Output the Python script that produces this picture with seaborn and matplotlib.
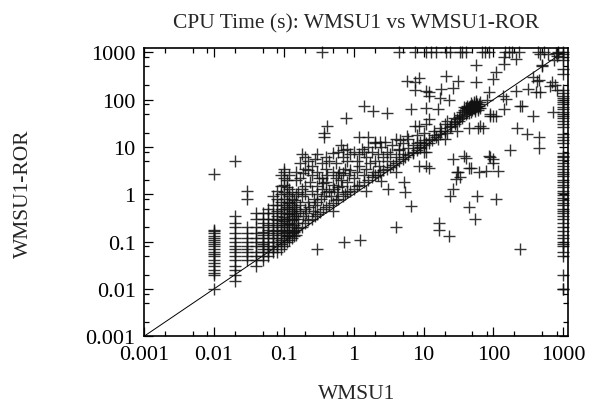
import numpy as np
import pandas as pd
import matplotlib
matplotlib.use('Agg')
import matplotlib.pyplot as plt
import seaborn as sns
from matplotlib.ticker import LogLocator, FixedLocator, FuncFormatter, NullFormatter

# --- WMSU1-ROR times for instances at a fixed WMSU1 time (vertical columns) ---
y_at_001 = [0.01, 0.02, 0.022, 0.025, 0.03, 0.035, 0.04, 0.05, 0.055, 0.06, 0.07,
            0.08, 0.09, 0.1, 0.11, 0.12, 0.13, 0.15, 0.17, 0.18, 2.7]
y_at_002 = [0.015, 0.02, 0.025, 0.03, 0.04, 0.05, 0.06, 0.07, 0.08, 0.1, 0.12,
            0.15, 0.2, 0.25, 0.35, 5.0]
y_at_003 = [0.04, 0.05, 0.06, 0.07, 0.08, 0.1, 0.12, 0.15, 0.2, 0.8, 1.2]
y_at_004 = [0.03, 0.04, 0.05, 0.06, 0.08, 0.1, 0.12, 0.15, 0.2, 0.3, 0.4]
y_at_005 = [0.04, 0.05, 0.06, 0.07, 0.08, 0.09, 0.1, 0.12, 0.14, 0.16, 0.2, 0.25, 0.3, 0.4]
y_at_006 = [0.05, 0.06, 0.07, 0.08, 0.1, 0.12, 0.15, 0.18, 0.22, 0.3, 0.4, 0.5]
y_at_007 = [0.06, 0.07, 0.08, 0.1, 0.12, 0.14, 0.17, 0.2, 0.25, 0.3, 0.4, 0.6, 0.9]
y_at_008 = [0.06, 0.08, 0.1, 0.12, 0.15, 0.18, 0.22, 0.28, 0.35, 0.45, 0.6, 0.8, 1.2]
y_at_009 = [0.07, 0.09, 0.11, 0.14, 0.17, 0.2, 0.25, 0.3, 0.4, 0.5, 0.7, 1.0, 1.5, 2.5]
y_at_010 = [0.08, 0.1, 0.12, 0.15, 0.18, 0.22, 0.27, 0.33, 0.4, 0.5, 0.6, 0.8, 1.1,
            1.6, 2.2, 3.0, 3.5]
y_at_011 = [0.1, 0.13, 0.16, 0.2, 0.25, 0.3, 0.4, 0.55, 0.7, 1.0, 1.4, 2.0]
y_at_012 = [0.11, 0.14, 0.18, 0.23, 0.3, 0.38, 0.5, 0.65, 0.9, 1.3, 2.5]
y_at_013 = [0.12, 0.15, 0.2, 0.28, 0.35, 0.45, 0.6, 0.8, 1.1]
y_at_014 = [0.13, 0.17, 0.22, 0.3, 0.4, 0.55, 0.75]
y_at_015 = [0.14, 0.18, 0.25, 0.35, 0.5, 0.7, 1.0, 2.0, 3.0]

# timeouts of WMSU1 (x = 1000)
y_at_timeout = [1000, 900, 800, 700, 450, 350, 160, 140, 120, 110, 100, 90, 80, 70,
                62, 55, 50, 45, 40, 35, 30, 27, 19, 16, 14, 12, 7.4, 6.5, 6.0, 5.2,
                4.5, 4.0, 3.5, 3.0, 2.7, 2.4, 2.0, 1.8, 1.6, 1.4, 1.2, 1.05, 0.95,
                0.85, 0.75, 0.65, 0.58, 0.5, 0.45, 0.4, 0.35, 0.3, 0.25, 0.2, 0.17,
                0.14, 0.12, 0.1, 0.09, 0.08, 0.06, 0.05, 0.02, 0.01, 0.01]

# timeouts of WMSU1-ROR (y = 1000)
x_at_timeout = [0.35, 4.5, 7.6, 10.7, 12.6, 15, 21, 24, 33, 36, 40, 69, 76, 87,
                146, 165, 183, 230, 440, 530, 830]

# --- scattered (WMSU1, WMSU1-ROR) pairs ---
upper_band = [(0.17, 4.5), (0.18, 7.0), (0.2, 3.5), (0.2, 6.0), (0.22, 5.0), (0.25, 4.0),
              (0.25, 2.5), (0.28, 5.5), (0.3, 3.0), (0.3, 7.0), (0.35, 4.5), (0.35, 2.2),
              (0.4, 3.5), (0.4, 6.0), (0.45, 5.0), (0.5, 7.5), (0.5, 3.0), (0.55, 4.5),
              (0.6, 8.0), (0.6, 2.5), (0.7, 6.0), (0.7, 8.5), (0.8, 5.0), (0.8, 9.0),
              (0.9, 7.0), (1.0, 8.0), (1.1, 5.0), (1.2, 7.0), (1.3, 9.0), (1.5, 6.0),
              (1.6, 10.0), (1.8, 8.0), (2.0, 12.0), (2.2, 7.0), (2.5, 10.0), (2.8, 13.0),
              (3.0, 8.0), (3.5, 11.0), (4.0, 15.0), (4.5, 9.0), (5.0, 12.0), (6.0, 15.0),
              (7.0, 11.0), (8.0, 18.0), (9.0, 13.0), (10.0, 20.0), (12.0, 15.0),
              (14.0, 22.0), (17.0, 25.0), (20.0, 30.0), (1.2, 16.0), (1.6, 16.0),
              (2.0, 13.0), (2.4, 13.0), (0.65, 11.0), (1.4, 8.0)]
middle_band = [(0.15, 0.4), (0.17, 0.6), (0.18, 0.9), (0.2, 0.5), (0.2, 1.0), (0.22, 0.7),
               (0.25, 1.2), (0.27, 0.8), (0.3, 1.0), (0.3, 1.5), (0.35, 1.3), (0.38, 0.9),
               (0.4, 1.8), (0.45, 1.2), (0.5, 1.6), (0.55, 2.2), (0.6, 1.4), (0.65, 2.0),
               (0.7, 2.8), (0.8, 1.8), (0.85, 2.5), (0.9, 3.2), (1.0, 2.2), (1.1, 3.0),
               (1.2, 4.0), (1.4, 2.6), (1.5, 3.5), (1.7, 4.5), (1.9, 3.0), (2.0, 5.0),
               (2.3, 4.0), (2.6, 6.0), (3.0, 5.0), (3.3, 7.0), (4.0, 6.0), (4.5, 8.5),
               (5.0, 7.0), (6.0, 9.5), (7.0, 8.0), (8.0, 12.0), (9.0, 10.0), (10.0, 14.0),
               (12.0, 12.0), (14.0, 18.0), (16.0, 15.0), (18.0, 22.0), (22.0, 20.0),
               (25.0, 28.0)]
extra_mid = [(0.16, 0.3), (0.17, 0.45), (0.18, 1.3), (0.19, 0.35), (0.2, 1.5), (0.21, 0.4),
             (0.23, 0.55), (0.24, 1.8), (0.26, 0.45), (0.28, 0.6), (0.3, 0.7), (0.32, 2.2),
             (0.34, 0.8), (0.36, 1.7), (0.4, 1.1), (0.42, 2.5), (0.48, 0.9), (0.52, 1.3),
             (0.58, 1.1), (0.62, 3.0), (0.68, 1.5), (0.75, 3.5), (0.17, 2.2), (0.19, 2.8),
             (0.22, 3.2), (0.16, 1.1)]
diag_band = [(0.12, 0.13), (0.14, 0.16), (0.16, 0.19), (0.18, 0.2), (0.2, 0.25), (0.22, 0.28),
             (0.25, 0.3), (0.28, 0.35), (0.3, 0.38), (0.33, 0.42), (0.37, 0.5), (0.4, 0.55),
             (0.45, 0.6), (0.5, 0.65), (0.55, 0.75), (0.6, 0.8), (0.7, 0.9), (0.75, 1.0),
             (0.8, 1.1), (0.9, 1.2), (1.0, 1.3), (1.1, 1.5), (1.2, 1.6), (1.4, 1.8),
             (1.6, 2.0), (1.8, 2.3), (2.0, 2.5), (2.2, 2.6), (2.4, 2.9), (2.6, 3.2),
             (3.0, 3.5), (3.3, 3.8), (3.6, 4.2), (4.0, 4.6), (4.5, 5.0), (5.0, 5.5),
             (5.5, 6.2), (6.0, 6.8), (7.0, 7.5), (8.0, 8.5), (9.0, 9.5), (10.0, 11.0),
             (11.0, 12.0), (13.0, 14.0), (15.0, 16.0), (17.0, 19.0), (20.0, 22.0),
             (24.0, 26.0), (28.0, 30.0), (32.0, 35.0), (36.0, 40.0), (3.1, 1.3),
             (2.5, 1.9), (1.5, 1.2), (0.5, 0.45), (4.0, 3.0), (10.0, 8.0), (20.0, 15.0),
             (30.0, 22.0), (25.0, 30.0), (28.0, 33.0), (30.0, 38.0), (32.0, 42.0),
             (27.0, 40.0), (22.0, 35.0), (11.0, 8.0), (12.0, 3.6), (30.0, 3.0),
             (33.0, 2.3), (40.0, 5.8), (47.0, 3.6), (85.0, 6.5), (100.0, 4.5),
             (115.0, 3.1), (78.0, 3.1)]
cluster = [(35, 55), (38, 60), (40, 65), (42, 58), (44, 70), (45, 62), (46, 75), (48, 68),
           (50, 72), (50, 60), (52, 80), (53, 66), (55, 70), (56, 85), (58, 75), (60, 68),
           (62, 80), (40, 50), (45, 52), (48, 55), (55, 58), (60, 60), (36, 45), (38, 70),
           (42, 75), (47, 85), (52, 90), (57, 95), (63, 72), (65, 90), (33, 48), (43, 62),
           (49, 78), (54, 63), (59, 82), (64, 65), (41, 68), (51, 67), (46, 64), (53, 74),
           (60, 25), (70, 25), (65, 28), (45, 25), (100, 46), (110, 45), (90, 50)]
outliers = [(0.3, 0.07), (0.72, 0.1), (1.25, 0.11), (4.1, 0.2), (5.2, 1.8), (5.5, 1.1),
            (6.6, 0.56), (16.5, 0.25), (16.5, 0.18), (23, 0.13), (24, 0.9), (26, 1.3),
            (29, 2.1), (31, 2.9), (44, 0.53), (55, 0.3), (58, 0.93), (110, 0.8),
            (240, 0.07), (175, 8.5), (90, 6.0), (100, 5.5), (62, 2.9), (44, 3.6),
            (38, 6.4), (26, 5.5), (11, 4.0), (8.5, 4.0), (220, 25), (300, 19),
            (450, 16), (450, 9.4), (370, 44), (710, 56), (640, 190), (450, 265),
            (310, 170), (210, 155), (260, 75), (240, 73), (140, 62), (90, 45),
            (80, 100), (1.4, 73), (1.9, 57), (3.0, 52), (0.77, 41), (0.41, 28),
            (0.38, 20), (0.38, 16), (400, 146), (470, 146), (690, 240), (420, 250)]
upper_high = [(5.8, 250), (7.6, 230), (7.6, 160), (8.5, 280), (11, 150), (12, 120),
              (12, 145), (18, 170), (17, 110), (21, 320), (23, 100), (26, 180), (31, 250),
              (56, 240), (56, 550), (85, 145), (97, 275), (110, 390), (135, 120),
              (150, 105), (140, 800), (140, 570), (210, 720), (470, 920), (370, 300),
              (6.6, 62), (11, 67), (16, 62), (11, 30), (12, 38), (8.5, 28), (7.6, 28),
              (5.8, 17), (4.6, 14), (780, 980), (740, 700), (500, 500), (820, 830),
              (600, 900), (850, 950), (500, 550), (750, 200), (800, 160)]

# --- assemble the data frame ---
columns = [(0.01, y_at_001), (0.02, y_at_002), (0.03, y_at_003), (0.04, y_at_004),
           (0.05, y_at_005), (0.06, y_at_006), (0.07, y_at_007), (0.08, y_at_008),
           (0.09, y_at_009), (0.10, y_at_010), (0.11, y_at_011), (0.12, y_at_012),
           (0.13, y_at_013), (0.14, y_at_014), (0.15, y_at_015), (1000, y_at_timeout)]
xs, ys = [], []
for xv, col in columns:
    xs += [xv] * len(col)
    ys += col
xs += x_at_timeout
ys += [1000] * len(x_at_timeout)
for group in [upper_band, middle_band, extra_mid, diag_band, cluster, outliers, upper_high]:
    xs += [p[0] for p in group]
    ys += [p[1] for p in group]
df = pd.DataFrame({'WMSU1': xs, 'WMSU1-ROR': ys})

diag = [0.001, 1000]

# --- plot ---
sns.set_style('ticks')
plt.rcParams['font.family'] = ['Liberation Serif', 'DejaVu Serif']

fig = plt.figure(figsize=(5.97, 4.10), dpi=100)
ax = fig.add_axes([0.2412, 0.1773, 0.7107, 0.7024])

ax.plot(diag, diag, color='black', linewidth=0.7, zorder=1)
sns.scatterplot(data=df, x='WMSU1', y='WMSU1-ROR', marker='+', color='#111111',
                s=70, linewidth=1.0, alpha=0.85, ax=ax, clip_on=False, zorder=2)

ax.set_xscale('log')
ax.set_yscale('log')
ax.set_xlim(0.001, 1177)
ax.set_ylim(0.001, 1210)

major = [0.001, 0.01, 0.1, 1, 10, 100, 1000]
fmt = FuncFormatter(lambda v, p: '%g' % v)
for axis in (ax.xaxis, ax.yaxis):
    axis.set_major_locator(FixedLocator(major))
    axis.set_major_formatter(fmt)
    axis.set_minor_locator(LogLocator(base=10, subs=[2, 5, 8]))
    axis.set_minor_formatter(NullFormatter())

ax.tick_params(which='both', direction='in', top=True, right=True, colors='black',
               labelsize=16, width=0.9)
ax.tick_params(which='major', length=6.5, pad=6)
ax.tick_params(which='minor', length=3.5)
for sp in ax.spines.values():
    sp.set_linewidth(1.2)
    sp.set_color('black')

ax.set_title('CPU Time (s): WMSU1 vs WMSU1-ROR', fontsize=15.5, pad=15)
ax.set_xlabel('WMSU1', fontsize=15.5, labelpad=15)
ax.set_ylabel('WMSU1-ROR', fontsize=15.5, labelpad=38)

fig.savefig('out.png', dpi=100)
